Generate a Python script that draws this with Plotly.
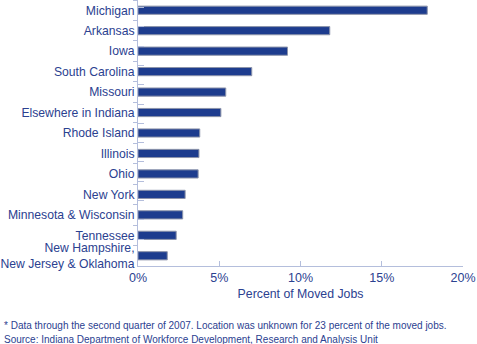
import plotly.graph_objects as go

# Destinations of moved jobs, top to bottom
destinations = [
    "Michigan",
    "Arkansas",
    "Iowa",
    "South Carolina",
    "Missouri",
    "Elsewhere in Indiana",
    "Rhode Island",
    "Illinois",
    "Ohio",
    "New York",
    "Minnesota & Wisconsin",
    "Tennessee",
    "New Hampshire,<br>New Jersey & Oklahoma",
]
percent_moved = [17.8, 11.8, 9.2, 7.0, 5.4, 5.1, 3.8, 3.75, 3.7, 2.9, 2.75, 2.35, 1.8]

x_ticks = [0, 5, 10, 15, 20]
x_tick_labels = ["0%", "5%", "10%", "15%", "20%"]

TEXT = "#2b4190"
BAR = "#1d3c8e"
AXIS = "#b4bedc"
FONT = "Liberation Sans, Arial, sans-serif"

fig = go.Figure()
fig.add_trace(go.Bar(
    x=percent_moved,
    y=destinations,
    orientation="h",
    width=0.4,
    marker=dict(color=BAR, line=dict(color="#8d94aa", width=1)),
    hoverinfo="skip",
))
# Invisible companion trace so a second category axis can carry the cross ticks
fig.add_trace(go.Scatter(
    x=[0] * len(destinations), y=destinations, yaxis="y2",
    mode="markers", marker=dict(opacity=0), hoverinfo="skip", showlegend=False,
))

fig.update_layout(
    width=477,
    height=344,
    margin=dict(l=138, r=14, t=0, b=78),
    paper_bgcolor="white",
    plot_bgcolor="white",
    showlegend=False,
    font=dict(family=FONT, color=TEXT, size=12),
    xaxis=dict(
        range=[0, 20],
        tickvals=x_ticks,
        ticktext=x_tick_labels,
        ticks="inside",
        ticklen=5,
        tickcolor=AXIS,
        showline=True,
        linecolor=AXIS,
        linewidth=1,
        showgrid=False,
        zeroline=False,
        tickfont=dict(size=12.5, color=TEXT),
        title=dict(text="Percent of Moved Jobs", font=dict(size=12.3, color=TEXT), standoff=5),
        fixedrange=True,
    ),
    yaxis=dict(
        categoryorder="array",
        categoryarray=destinations,
        autorange="reversed",
        ticks="outside",
        tickson="boundaries",
        ticklen=4,
        tickcolor=AXIS,
        showline=True,
        linecolor=AXIS,
        linewidth=1,
        showgrid=False,
        tickfont=dict(size=12.2, color=TEXT),
        ticklabelstandoff=0,
        fixedrange=True,
    ),
    yaxis2=dict(
        overlaying="y",
        side="left",
        categoryorder="array",
        categoryarray=destinations,
        autorange="reversed",
        ticks="inside",
        tickson="boundaries",
        ticklen=6,
        tickcolor=AXIS,
        showticklabels=False,
        showline=False,
        showgrid=False,
        fixedrange=True,
    ),
    annotations=[
        dict(
            text="* Data through the second quarter of 2007. Location was unknown for 23 percent of the moved jobs.",
            xref="paper", yref="paper", x=-0.418, y=-0.222,
            xanchor="left", yanchor="middle", showarrow=False,
            font=dict(size=10, color=TEXT),
        ),
        dict(
            text="Source: Indiana Department of Workforce Development, Research and Analysis Unit",
            xref="paper", yref="paper", x=-0.418, y=-0.275,
            xanchor="left", yanchor="middle", showarrow=False,
            font=dict(size=10, color=TEXT),
        ),
    ],
)

fig.write_html("out.html")
